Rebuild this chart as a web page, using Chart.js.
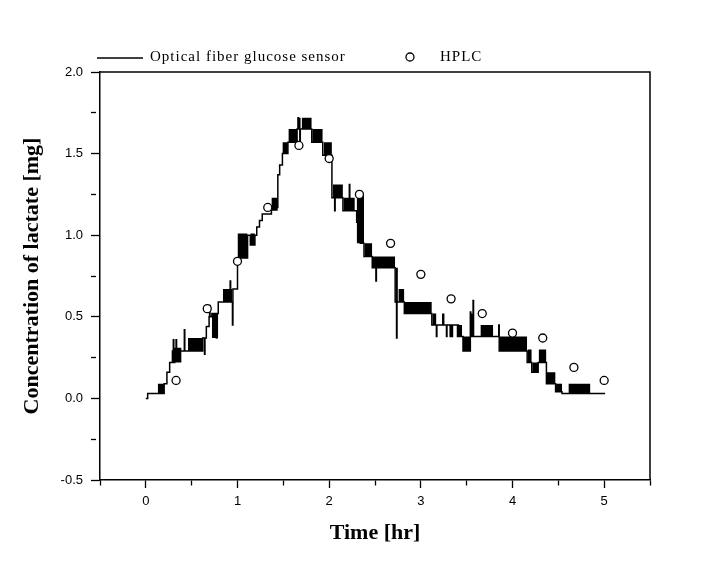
<!DOCTYPE html>
<html lang="en">
<head>
<meta charset="UTF-8" />
<title>Lactate: optical fiber glucose sensor vs HPLC</title>
<script src="https://cdn.jsdelivr.net/npm/chart.js"></script>
<style>
  html, body { margin: 0; padding: 0; background: #fff; }
  #wrap { width: 705px; height: 571px; }
</style>
</head>
<body>
<div id="wrap"><canvas id="chart" width="705" height="571"></canvas></div>
<script>
// series names
const seriesNames = ['Optical fiber glucose sensor', 'HPLC'];

// HPLC samples (hr, mg)
const hplcTime  = [0.33, 0.67, 1.00, 1.33, 1.67, 2.00, 2.33, 2.67, 3.00, 3.33, 3.67, 4.00, 4.33, 4.67, 5.00];
const hplcValue = [0.11, 0.55, 0.84, 1.17, 1.55, 1.47, 1.25, 0.95, 0.76, 0.61, 0.52, 0.40, 0.37, 0.19, 0.11];

// sensor trace: time where the reading steps, and the level it steps to
const sensorTime = [
  0.00, 0.02, 0.20, 0.23, 0.26, 0.29, 0.30, 0.305, 0.315, 0.33, 0.335, 0.42, 0.425,
  0.62, 0.64, 0.645, 0.66, 0.69, 0.695, 0.70, 0.72, 0.77, 0.775, 0.79, 0.92, 0.925,
  0.945, 0.95, 1.00, 1.11, 1.14, 1.19, 1.21, 1.24, 1.27, 1.37, 1.44, 1.46, 1.49,
  1.55, 1.65, 1.66, 1.665, 1.68, 1.685, 1.81, 1.93, 2.03, 2.06, 2.065, 2.15, 2.22,
  2.225, 2.30, 2.34, 2.38, 2.47, 2.51, 2.515, 2.72, 2.735, 2.74, 2.82, 3.12, 3.17,
  3.175, 3.28, 3.285, 3.32, 3.325, 3.34, 3.345, 3.40, 3.405, 3.41, 3.46, 3.54, 3.545,
  3.57, 3.575, 3.85, 3.855, 4.16, 4.21, 4.28, 4.37, 4.47, 4.54, 5.01
];
const sensorValue = [
  0.00, 0.03, 0.09, 0.16, 0.22, 0.29, 0.36, 0.22, 0.29, 0.36, 0.29, 0.42, 0.29,
  0.37, 0.27, 0.37, 0.44, 0.50, 0.57, 0.50, 0.52, 0.37, 0.52, 0.59, 0.72, 0.59,
  0.45, 0.67, 0.86, 1.00, 0.94, 1.00, 1.05, 1.09, 1.13, 1.17, 1.37, 1.43, 1.50,
  1.57, 1.65, 1.72, 1.65, 1.55, 1.65, 1.57, 1.49, 1.23, 1.15, 1.23, 1.15, 1.31,
  1.15, 1.08, 0.95, 0.87, 0.80, 0.72, 0.80, 0.59, 0.37, 0.59, 0.52, 0.45, 0.38,
  0.45, 0.38, 0.45, 0.38, 0.45, 0.38, 0.45, 0.38, 0.45, 0.38, 0.29, 0.53, 0.38,
  0.60, 0.38, 0.45, 0.29, 0.22, 0.16, 0.22, 0.09, 0.04, 0.03, 0.03
];

// stretches where the sensor flickers between two levels (solid black bands)
const bandStart = [0.13, 0.30, 0.46, 0.72, 0.84, 1.00, 1.14, 1.37, 1.49, 1.555, 1.655, 1.70, 1.815, 1.94,
                   2.04, 2.155, 2.30, 2.385, 2.475, 2.725, 2.755, 2.825, 3.125, 3.23, 3.41, 3.46, 3.545,
                   3.65, 3.86, 4.165, 4.215, 4.285, 4.375, 4.475, 4.61];
const bandEnd   = [0.20, 0.39, 0.62, 0.79, 0.94, 1.11, 1.19, 1.44, 1.55, 1.65, 1.69, 1.81, 1.93, 2.03,
                   2.15, 2.28, 2.38, 2.47, 2.72, 2.75, 2.82, 3.12, 3.17, 3.26, 3.45, 3.54, 3.57,
                   3.79, 4.16, 4.21, 4.28, 4.37, 4.47, 4.54, 4.85];
const bandLow   = [0.03, 0.22, 0.29, 0.37, 0.59, 0.86, 0.94, 1.15, 1.50, 1.57, 1.65, 1.65, 1.57, 1.49,
                   1.23, 1.15, 0.95, 0.87, 0.80, 0.59, 0.59, 0.52, 0.45, 0.45, 0.38, 0.29, 0.38,
                   0.38, 0.29, 0.22, 0.16, 0.22, 0.09, 0.04, 0.03];
const bandHigh  = [0.09, 0.31, 0.37, 0.52, 0.67, 1.01, 1.01, 1.23, 1.57, 1.65, 1.72, 1.72, 1.65, 1.57,
                   1.31, 1.23, 1.25, 0.95, 0.87, 0.80, 0.67, 0.59, 0.52, 0.52, 0.45, 0.38, 0.52,
                   0.45, 0.38, 0.30, 0.22, 0.30, 0.16, 0.09, 0.09];

// build point lists
const hplcPoints = hplcTime.map((t, i) => ({x: t, y: hplcValue[i]}));
const sensorPoints = sensorTime.map((t, i) => ({x: t, y: sensorValue[i]}));
const bandLowPoints = [], bandHighPoints = [];
bandStart.forEach((s, i) => {
  const e = bandEnd[i];
  bandLowPoints.push({x: s, y: bandLow[i]}, {x: e, y: bandLow[i]}, {x: e, y: null});
  bandHighPoints.push({x: s, y: bandHigh[i]}, {x: e, y: bandHigh[i]}, {x: e, y: null});
});

const isWhole = v => Math.abs(v - Math.round(v)) < 1e-6;
const isHalf = v => isWhole(v * 2);

// box around the plot + legend row above it
const framePlugin = {
  id: 'frame',
  afterDraw(chart) {
    const {ctx, chartArea: a} = chart;
    ctx.save();
    ctx.strokeStyle = '#000';
    ctx.lineWidth = 1.5;
    ctx.beginPath();
    ctx.moveTo(a.left, a.top);
    ctx.lineTo(a.right, a.top);
    ctx.lineTo(a.right, a.bottom);
    ctx.stroke();

    // legend
    const y = a.top - 15;
    ctx.beginPath();
    ctx.moveTo(a.left - 3, y + 1);
    ctx.lineTo(a.left + 43, y + 1);
    ctx.stroke();
    ctx.font = '15px "Liberation Serif"';
    ctx.fillStyle = '#000';
    ctx.textBaseline = 'middle';
    ctx.letterSpacing = '1px';
    ctx.fillText(seriesNames[0], a.left + 50, y);
    ctx.lineWidth = 1.3;
    ctx.beginPath();
    ctx.arc(a.left + 310, y, 4, 0, Math.PI * 2);
    ctx.fillStyle = '#fff';
    ctx.fill();
    ctx.stroke();
    ctx.fillStyle = '#000';
    ctx.fillText(seriesNames[1], a.left + 340, y);
    ctx.restore();
  }
};

new Chart(document.getElementById('chart'), {
  type: 'line',
  data: {
    datasets: [
      {
        label: seriesNames[1],
        data: hplcPoints,
        showLine: false,
        pointStyle: 'circle',
        pointRadius: 4,
        pointBorderWidth: 1.3,
        pointBorderColor: '#000',
        pointBackgroundColor: '#fff'
      },
      {
        label: seriesNames[0],
        data: sensorPoints,
        stepped: true,
        borderColor: '#000',
        borderWidth: 1.5,
        pointRadius: 0,
        fill: false
      },
      {
        label: 'band low',
        data: bandLowPoints,
        borderWidth: 0,
        borderColor: 'rgba(0,0,0,0)',
        pointRadius: 0,
        fill: false
      },
      {
        label: 'band high',
        data: bandHighPoints,
        borderWidth: 0,
        borderColor: 'rgba(0,0,0,0)',
        backgroundColor: '#000',
        pointRadius: 0,
        fill: '-1'
      }
    ]
  },
  options: {
    responsive: false,
    animation: false,
    spanGaps: false,
    layout: { padding: { top: 72, right: 55, bottom: 0, left: 0 } },
    plugins: {
      legend: { display: false },
      tooltip: { enabled: false }
    },
    scales: {
      x: {
        type: 'linear',
        min: -0.5,
        max: 5.5,
        border: { color: '#000', width: 1.5 },
        grid: {
          drawOnChartArea: false,
          tickLength: 8,
          tickColor: '#000',
          tickWidth: 1.3,
          tickBorderDash: c => (c.tick && isWhole(c.tick.value)) ? [] : [5, 20]
        },
        ticks: {
          stepSize: 0.5,
          autoSkip: false,
          maxRotation: 0,
          padding: 6,
          color: '#000',
          font: { family: 'Liberation Sans', size: 13 },
          callback: v => isWhole(v) ? String(Math.round(v)) : ''
        },
        title: {
          display: true,
          text: 'Time [hr]',
          color: '#000',
          font: { family: 'Liberation Serif', size: 22, weight: 'bold' },
          padding: { top: 0, bottom: 24 }
        },
        afterFit: s => { s.height = 91; }
      },
      y: {
        min: -0.5,
        max: 2.0,
        border: { color: '#000', width: 1.5 },
        grid: {
          drawOnChartArea: false,
          tickLength: 9,
          tickColor: '#000',
          tickWidth: 1.3,
          tickBorderDash: c => (c.tick && isHalf(c.tick.value)) ? [] : [5, 20]
        },
        ticks: {
          stepSize: 0.25,
          autoSkip: false,
          padding: 8,
          color: '#000',
          font: { family: 'Liberation Sans', size: 13 },
          callback: v => isHalf(v) ? v.toFixed(1) : ''
        },
        title: {
          display: true,
          text: 'Concentration of lactate [mg]',
          color: '#000',
          font: { family: 'Liberation Serif', size: 22, weight: 'bold' },
          padding: { top: 19 }
        },
        afterFit: s => { s.width = 100; }
      }
    }
  },
  plugins: [framePlugin]
});
</script>
</body>
</html>
